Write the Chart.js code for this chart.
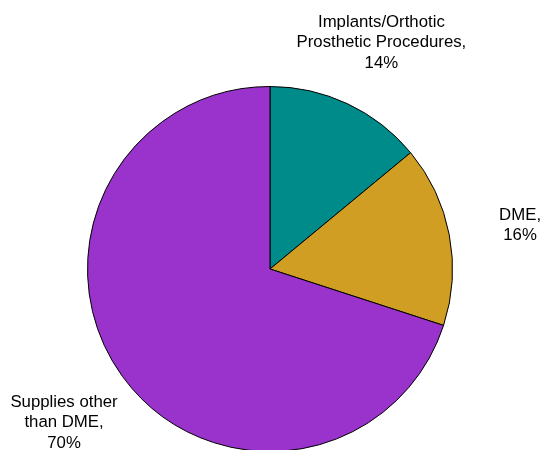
<!DOCTYPE html>
<html>
<head>
<meta charset="utf-8">
<script src="https://cdn.jsdelivr.net/npm/chart.js@4"></script>
<style>
html,body{margin:0;padding:0;background:#fff;overflow:hidden;}
#wrap{position:absolute;left:0;top:0;width:543px;height:460px;}
</style>
</head>
<body>
<div id="wrap"><canvas id="c" width="543" height="460"></canvas></div>
<script>
const categories = ["Implants/Orthotic Prosthetic Procedures", "DME", "Supplies other than DME"];
const labelLines = [["Implants/Orthotic", "Prosthetic Procedures,"], ["DME,"], ["Supplies other", "than DME,"]];
const values = [14, 16, 70];
const colors = ["#008B8B", "#CF9E22", "#9933CC"];

const labelPlugin = {
  id: "outsideLabels",
  afterDatasetsDraw(chart) {
    const ctx = chart.ctx;
    const meta = chart.getDatasetMeta(0);
    ctx.save();
    ctx.font = "16.8px 'Liberation Sans', Arial, sans-serif";
    ctx.fillStyle = "#000";
    ctx.textAlign = "center";
    ctx.textBaseline = "middle";
    const lh = 20.5;
    meta.data.forEach((arc, i) => {
      const p = arc.getProps(["x", "y", "startAngle", "endAngle", "outerRadius"], true);
      const mid = (p.startAngle + p.endAngle) / 2;
      const r = p.outerRadius * 1.395;
      const cx = p.x + Math.cos(mid) * r + (i === 0 ? 3 : 0);
      const cy = p.y + Math.sin(mid) * r + 4;
      const lines = labelLines[i].concat([values[i] + "%"]);
      const y0 = cy - (lines.length - 1) * lh / 2;
      lines.forEach((t, k) => ctx.fillText(t, cx, y0 + k * lh));
    });
    ctx.restore();
  }
};

new Chart(document.getElementById("c"), {
  type: "pie",
  data: {
    labels: categories,
    datasets: [{
      data: values,
      backgroundColor: colors,
      borderColor: "#000",
      borderWidth: 1,
      borderAlign: "center"
    }]
  },
  options: {
    responsive: false,
    animation: false,
    layout: { padding: { top: 86, bottom: 8, left: 87, right: 90 } },
    plugins: {
      legend: { display: false },
      tooltip: { enabled: false }
    }
  },
  plugins: [labelPlugin]
});
</script>
</body>
</html>
